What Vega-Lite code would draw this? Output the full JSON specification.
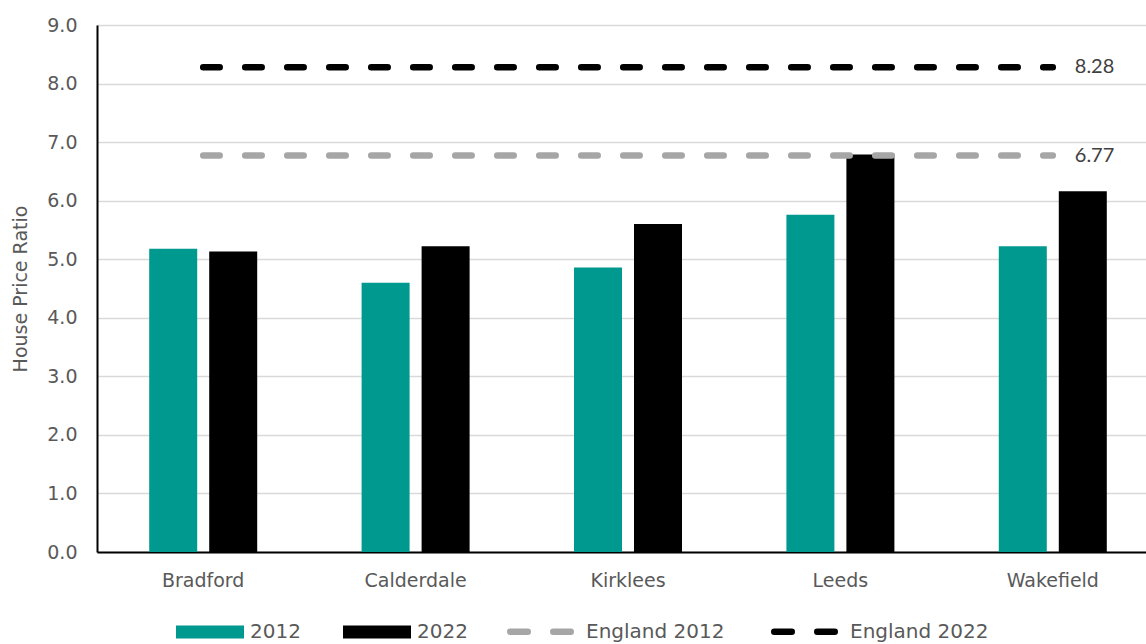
{
  "$schema": "https://vega.github.io/schema/vega-lite/v6.json",
  "width": 1049,
  "height": 527,
  "autosize": {"type": "none"},
  "padding": {"left": 97, "top": 25, "right": 0, "bottom": 92},
  "config": {"view": {"stroke": null}, "font": "DejaVu Sans"},
  "datasets": {
    "bars": [
      {"area": "Bradford", "series": "2012", "value": 5.18},
      {"area": "Bradford", "series": "2022", "value": 5.13},
      {"area": "Calderdale", "series": "2012", "value": 4.60},
      {"area": "Calderdale", "series": "2022", "value": 5.22},
      {"area": "Kirklees", "series": "2012", "value": 4.86},
      {"area": "Kirklees", "series": "2022", "value": 5.60},
      {"area": "Leeds", "series": "2012", "value": 5.76},
      {"area": "Leeds", "series": "2022", "value": 6.79},
      {"area": "Wakefield", "series": "2012", "value": 5.22},
      {"area": "Wakefield", "series": "2022", "value": 6.16}
    ],
    "england": [
      {"area": "Bradford", "series": "England 2012", "value": 6.77},
      {"area": "Wakefield", "series": "England 2012", "value": 6.77},
      {"area": "Bradford", "series": "England 2022", "value": 8.28},
      {"area": "Wakefield", "series": "England 2022", "value": 8.28}
    ],
    "labels": [
      {"area": "Wakefield", "series": "England 2012", "value": 6.77, "label": "6.77"},
      {"area": "Wakefield", "series": "England 2022", "value": 8.28, "label": "8.28"}
    ]
  },
  "encoding": {
    "x": {
      "field": "area",
      "type": "nominal",
      "scale": {
        "domain": ["Bradford", "Calderdale", "Kirklees", "Leeds", "Wakefield"],
        "range": [0, 1062],
        "paddingInner": 0.4915,
        "paddingOuter": 0.2458
      },
      "axis": {
        "title": null,
        "ticks": false,
        "grid": false,
        "domainColor": "#000000",
        "domainWidth": 2,
        "labelColor": "#595959",
        "labelFontSize": 19,
        "labelPadding": 19,
        "labelAngle": 0
      }
    },
    "y": {
      "field": "value",
      "type": "quantitative",
      "scale": {"domain": [0, 9], "nice": false},
      "axis": {
        "title": "House Price Ratio",
        "values": [0, 1, 2, 3, 4, 5, 6, 7, 8, 9],
        "format": ".1f",
        "ticks": false,
        "domainColor": "#000000",
        "domainWidth": 2,
        "gridColor": "#D9D9D9",
        "gridWidth": 1.5,
        "labelColor": "#595959",
        "labelFontSize": 19,
        "labelPadding": 20,
        "titleColor": "#595959",
        "titleFontSize": 19,
        "titleFontWeight": "normal",
        "titlePadding": 16
      }
    }
  },
  "layer": [
    {
      "data": {"name": "bars"},
      "mark": {"type": "bar"},
      "encoding": {
        "xOffset": {"field": "series", "type": "nominal", "scale": {"paddingInner": 0.2, "paddingOuter": 0}},
        "fill": {
          "field": "series",
          "type": "nominal",
          "scale": {"domain": ["2012", "2022"], "range": ["#00998F", "#000000"]},
          "legend": {
            "orient": "none",
            "legendX": 79,
            "legendY": 573,
            "direction": "horizontal",
            "title": null,
            "symbolType": "M-1,-0.19H1V0.19H-1Z",
            "symbolSize": 4624,
            "symbolStrokeWidth": 0,
            "labelFont": "DejaVu Sans",
            "labelFontSize": 20,
            "labelColor": "#595959",
            "labelOffset": 6,
            "columnPadding": 42
          }
        }
      }
    },
    {
      "data": {"name": "england"},
      "mark": {"type": "line", "strokeWidth": 6.5, "strokeCap": "round", "strokeDash": [16.5, 25.5]},
      "encoding": {
        "stroke": {
          "field": "series",
          "type": "nominal",
          "scale": {"domain": ["England 2012", "England 2022"], "range": ["#A6A6A6", "#000000"]},
          "legend": {
            "orient": "none",
            "legendX": 410,
            "legendY": 573,
            "direction": "horizontal",
            "title": null,
            "symbolType": "stroke",
            "symbolSize": 3660,
            "symbolStrokeWidth": 6.5,
            "symbolDash": [17.5, 25.5],
            "labelFont": "DejaVu Sans",
            "labelFontSize": 20,
            "labelColor": "#595959",
            "labelOffset": 12,
            "columnPadding": 36,
            "encode": {
              "symbols": {"update": {"strokeCap": {"value": "round"}}}
            }
          }
        }
      }
    },
    {
      "data": {"name": "labels"},
      "mark": {"type": "text", "align": "left", "baseline": "middle", "dx": 22, "font": "Lato", "fontSize": 20, "color": "#404040"},
      "encoding": {
        "text": {"field": "label", "type": "nominal"}
      }
    }
  ]
}
